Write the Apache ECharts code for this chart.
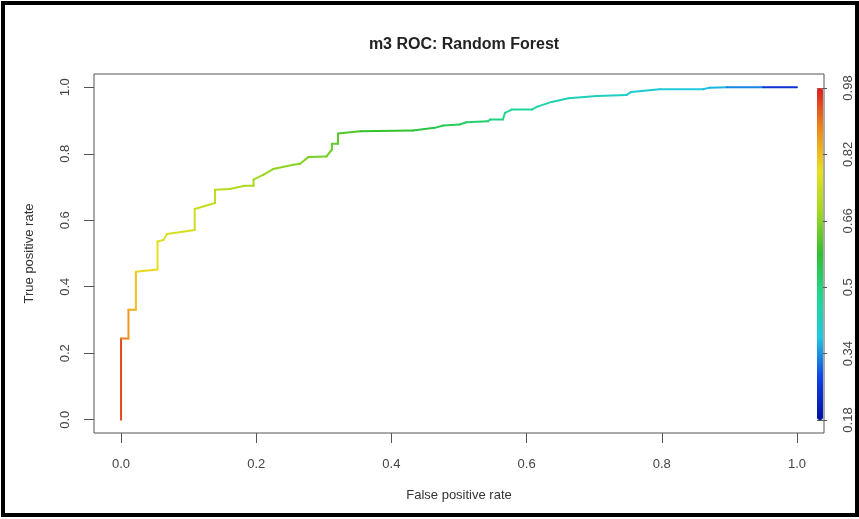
<!DOCTYPE html>
<html>
<head>
<meta charset="utf-8">
<script src="https://cdn.jsdelivr.net/npm/echarts@6/dist/echarts.min.js"></script>
<style>
  html, body { margin: 0; padding: 0; background: #fff; }
  #chart { width: 859px; height: 519px; }
</style>
</head>
<body>
<div id="chart"></div>
<script>
// ROC curve points (corners of the step curve)
let fpr = [0, 0, 0.011, 0.011, 0.022, 0.022, 0.054, 0.054, 0.063, 0.068, 0.109, 0.109, 0.139, 0.139,
    0.161, 0.183, 0.196, 0.196, 0.211, 0.225, 0.255, 0.265, 0.277, 0.304, 0.312, 0.312, 0.321, 0.321,
    0.354, 0.432, 0.464, 0.477, 0.501, 0.511, 0.543, 0.546, 0.565, 0.568, 0.578, 0.608, 0.615, 0.637,
    0.662, 0.704, 0.748, 0.755, 0.797, 0.861, 0.871, 0.896, 0.95, 1.0];
let tpr = [0, 0.244, 0.244, 0.331, 0.331, 0.445, 0.452, 0.536, 0.541, 0.559, 0.571, 0.634, 0.652, 0.692,
    0.694, 0.704, 0.704, 0.722, 0.737, 0.754, 0.767, 0.770, 0.790, 0.792, 0.813, 0.830, 0.830, 0.861,
    0.868, 0.870, 0.878, 0.885, 0.888, 0.895, 0.898, 0.903, 0.903, 0.923, 0.933, 0.933, 0.941, 0.956,
    0.967, 0.974, 0.977, 0.986, 0.994, 0.994, 0.999, 1.0, 1.0, 1.0];
// cutoff at each point (drives the colour)
let cutoff = [0.98, 0.90, 0.88, 0.85, 0.83, 0.80, 0.78, 0.77, 0.76, 0.76, 0.75, 0.74, 0.73, 0.72,
    0.71, 0.70, 0.69, 0.69, 0.68, 0.67, 0.66, 0.66, 0.65, 0.64, 0.63, 0.63, 0.62, 0.62,
    0.60, 0.57, 0.55, 0.54, 0.53, 0.52, 0.51, 0.50, 0.49, 0.48, 0.47, 0.46, 0.45, 0.44,
    0.43, 0.42, 0.41, 0.40, 0.39, 0.38, 0.37, 0.36, 0.30, 0.20];

let xTicks = [0, 0.2, 0.4, 0.6, 0.8, 1.0];
let yTicks = [0, 0.2, 0.4, 0.6, 0.8, 1.0];
let cutoffLabels = ['0.18', '0.34', '0.5', '0.66', '0.82', '0.98'];

let rainbow = ['#0010a0', '#1040e8', '#20c8e0', '#20d890', '#30c030', '#a0d820', '#e8e020', '#f08a1a', '#d82020'];

// one segment per pair of neighbouring points
let segments = [];
for (let i = 0; i < fpr.length - 1; i++) {
    segments.push([fpr[i], tpr[i], fpr[i + 1], tpr[i + 1], (cutoff[i] + cutoff[i + 1]) / 2]);
}

let font = '"Liberation Sans", Arial, sans-serif';
let myChart = echarts.init(document.getElementById('chart'));

myChart.setOption({
    animation: false,
    title: {
        text: 'm3 ROC: Random Forest',
        left: 459,
        top: 32,
        textAlign: 'center',
        textStyle: { fontFamily: font, fontSize: 16, fontWeight: 'bold', color: '#222' }
    },
    grid: [
        { left: 94, right: 35, top: 74, bottom: 86, show: true, borderColor: '#555', borderWidth: 1 },
        { left: 817, width: 6, top: 88, height: 332 }
    ],
    xAxis: [
        {
            gridIndex: 0,
            type: 'value',
            min: -0.04,
            max: 1.04,
            name: 'False positive rate',
            nameLocation: 'middle',
            nameGap: 56,
            nameTextStyle: { fontFamily: font, fontSize: 13, color: '#333' },
            axisLine: { show: false, onZero: false },
            axisTick: { show: true, customValues: xTicks, length: 10, lineStyle: { color: '#555' } },
            axisLabel: {
                customValues: xTicks,
                margin: 25,
                fontFamily: font,
                fontSize: 13,
                color: '#444',
                formatter: v => v.toFixed(1)
            },
            splitLine: { show: false }
        },
        { gridIndex: 1, type: 'value', show: false }
    ],
    yAxis: [
        {
            gridIndex: 0,
            type: 'value',
            min: -0.04,
            max: 1.04,
            name: 'True positive rate',
            nameLocation: 'middle',
            nameGap: 58,
            nameTextStyle: { fontFamily: font, fontSize: 13, color: '#333' },
            axisLine: { show: false, onZero: false },
            axisTick: { show: true, customValues: yTicks, length: 10, lineStyle: { color: '#555' } },
            axisLabel: {
                customValues: yTicks,
                rotate: 90,
                margin: 22,
                fontFamily: font,
                fontSize: 13,
                color: '#444',
                formatter: v => v.toFixed(1)
            },
            splitLine: { show: false }
        },
        {
            gridIndex: 1,
            type: 'category',
            position: 'right',
            data: cutoffLabels,
            boundaryGap: false,
            axisLine: { show: false },
            axisTick: { show: true, length: 10, lineStyle: { color: '#555' } },
            axisLabel: {
                rotate: 90,
                margin: 19,
                interval: 0,
                fontFamily: font,
                fontSize: 13,
                color: '#444'
            },
            splitLine: { show: false }
        }
    ],
    visualMap: {
        type: 'continuous',
        seriesIndex: 0,
        dimension: 4,
        min: 0.18,
        max: 0.98,
        left: 817,
        top: 88,
        itemWidth: 6,
        itemHeight: 332,
        padding: 0,
        calculable: false,
        hoverLink: false,
        text: ['', ''],
        inRange: { color: rainbow }
    },
    series: [
        {
            type: 'custom',
            xAxisIndex: 0,
            yAxisIndex: 0,
            data: segments,
            encode: { x: [0, 2], y: [1, 3] },
            renderItem: (params, api) => {
                let p0 = api.coord([api.value(0), api.value(1)]);
                let p1 = api.coord([api.value(2), api.value(3)]);
                return {
                    type: 'line',
                    shape: { x1: p0[0], y1: p0[1], x2: p1[0], y2: p1[1] },
                    style: { stroke: api.visual('color'), lineWidth: 2, lineCap: 'round' }
                };
            }
        }
    ],
    graphic: [
        {
            type: 'rect',
            shape: { x: 3, y: 3, width: 854, height: 512 },
            style: { fill: 'none', stroke: '#000', lineWidth: 4 },
            silent: true
        }
    ]
});
</script>
</body>
</html>
